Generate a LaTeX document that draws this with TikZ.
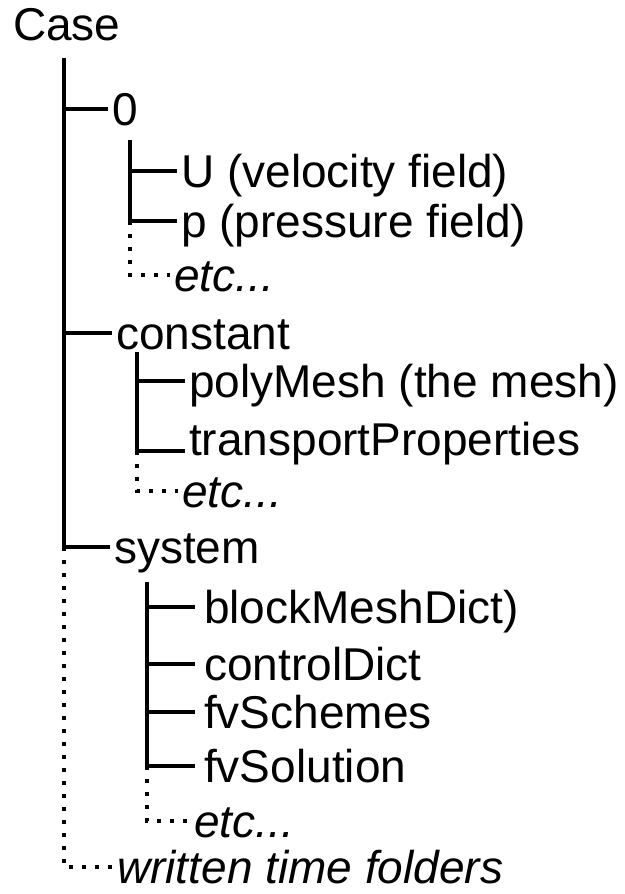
\documentclass[tikz,border=0pt]{standalone}
\usepackage{fontspec}
\setmainfont{Liberation Sans}
\usetikzlibrary{positioning}

\begin{document}
\begin{tikzpicture}[
        x=1pt, y=-1pt,
        item/.style={anchor=west, inner ysep=0pt, inner xsep=4pt, text height=33pt, text depth=0pt, font=\fontsize{46pt}{54pt}\selectfont},
        etcitem/.style={item, font=\fontsize{46pt}{54pt}\selectfont\itshape},
        wide/.style={inner xsep=9pt},
        line/.style={line width=4pt, draw=black},
        dots/.style={line width=4pt, draw=black, dash pattern=on 4pt off 9pt}
    ]
        \useasboundingbox (0,0) rectangle (624,894);

        % Nodes
        \node[item] (case) at (9,24) {Case};
        \node[item] (zero) at (108,109) {0};
        \node[item] (U) at (177,171) {U (velocity field)};
        \node[item] (p) at (177,221) {p (pressure field)};
        \node[etcitem] (etcA) at (170,275) {etc...};
        \node[item] (constant) at (112,333) {constant};
        \node[item] (polyMesh) at (185,381) {polyMesh (the mesh)};
        \node[item] (transport) at (185,439) {transportProperties};
        \node[etcitem] (etcB) at (178,491) {etc...};
        \node[item] (system) at (110,547) {system};
        \node[item, wide] (blockMesh) at (195,607) {blockMeshDict)};
        \node[item, wide] (controlDict) at (195,664) {controlDict};
        \node[item, wide] (fvSchemes) at (195,712) {fvSchemes};
        \node[item, wide] (fvSolution) at (195,766) {fvSolution};
        \node[etcitem] (etcC) at (190,821) {etc...};
        \node[etcitem] (written) at (113,867) {written time folders};

        % Trunk tops and corners
        \coordinate (trunk) at (64,58);
        \coordinate (subZero) at (130,140);
        \coordinate (subConst) at (137,352);
        \coordinate (constCorner) at (137,451);
        \coordinate (subSys) at (147,582);

        % Edges
        \draw[line] (trunk) |- (zero.west);
        \draw[line] (trunk) |- (constant.west);
        \draw[line] (trunk) |- (system.west);
        \draw[dots] (system.west -| trunk) |- (written.west);

        \draw[line] (subZero) |- (U.west);
        \draw[line] (subZero) |- (p.west);
        \draw[dots] (p.west -| subZero) |- (etcA.west);

        \draw[line] (subConst) |- (polyMesh.west);
        \draw[line] (subConst) -- (constCorner) -- (constCorner -| transport.west);
        \draw[dots] (constCorner) |- (etcB.west);

        \foreach \leaf in {blockMesh, controlDict, fvSchemes, fvSolution}
            \draw[line] (subSys) |- (\leaf.west);
        \draw[dots] (fvSolution.west -| subSys) |- (etcC.west);
    \end{tikzpicture}
\end{document}
